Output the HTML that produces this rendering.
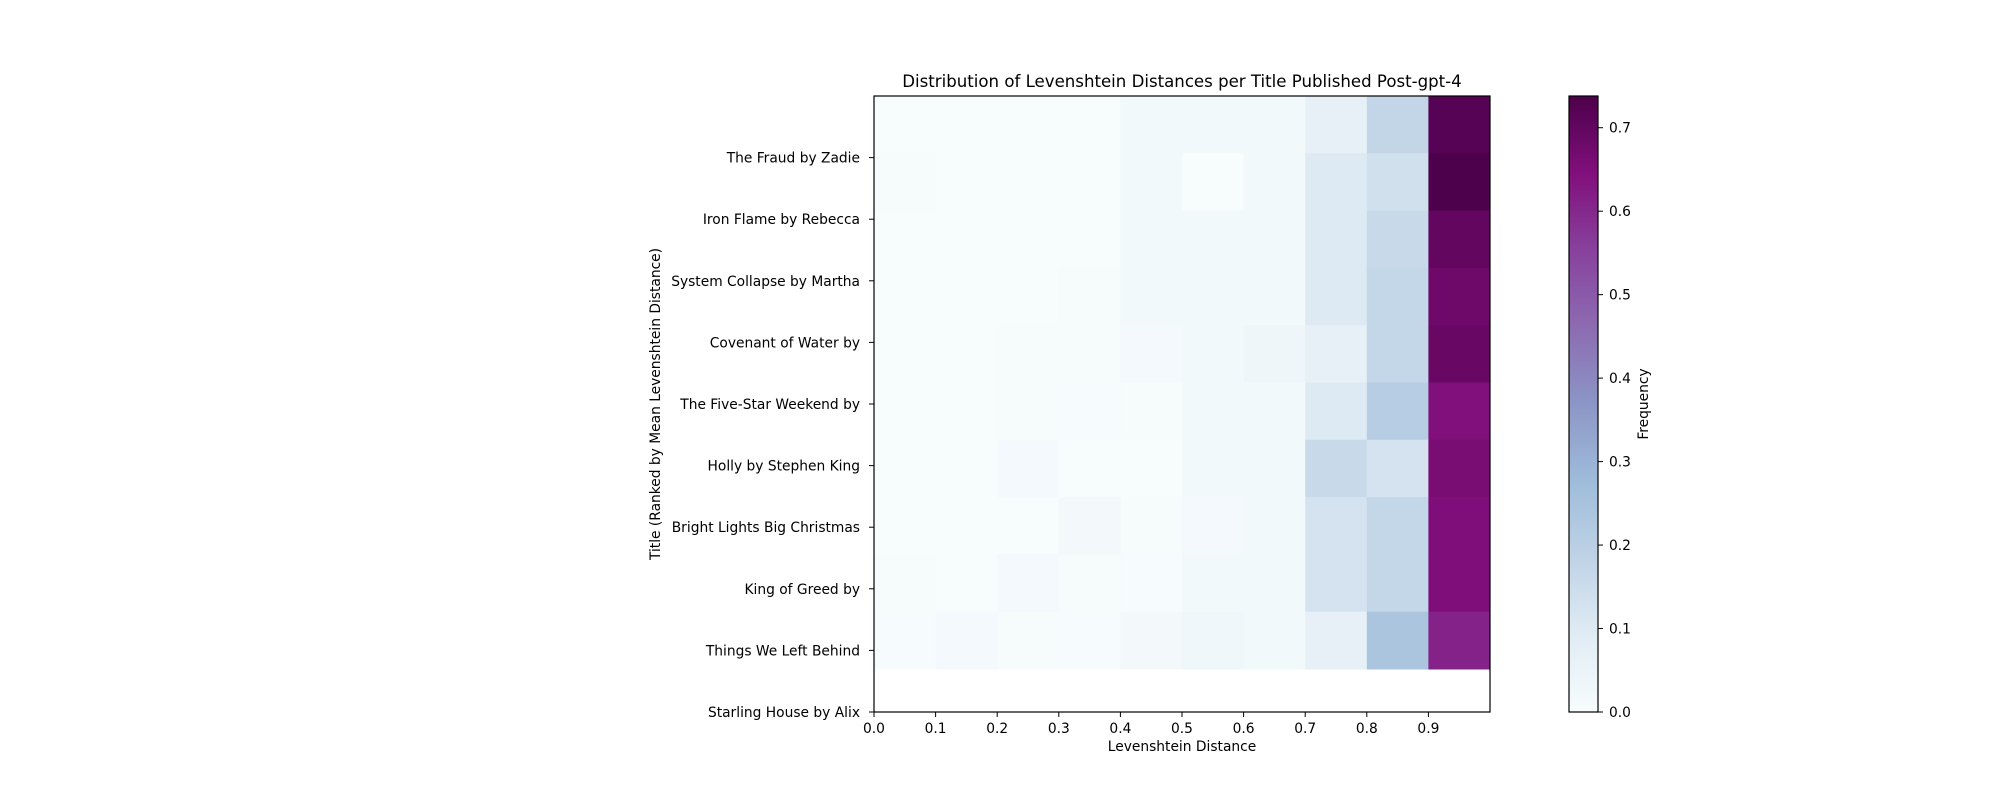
<!DOCTYPE html>
<html><head><meta charset="utf-8"><style>
html,body{margin:0;padding:0;background:#fff;}
svg{display:block;font-family:"DejaVu Sans","Liberation Sans",sans-serif;}
</style></head><body>
<svg id="chart" width="2000" height="800" viewBox="0 0 2000 800">
<text x="1182" y="87" font-size="16.6" text-anchor="middle">Distribution of Levenshtein Distances per Title Published Post-gpt-4</text>
<g id="cells"></g>
<rect x="874" y="96" width="616" height="616" fill="none" stroke="#000" stroke-width="1.2"/>
<g id="xticks"></g>
<g id="yticks"></g>
<text x="1182" y="751" font-size="13.8" text-anchor="middle">Levenshtein Distance</text>
<text transform="translate(660,404) rotate(-90)" font-size="13.8" text-anchor="middle">Title (Ranked by Mean Levenshtein Distance)</text>
<defs><linearGradient id="cbg" x1="0" y1="1" x2="0" y2="0"></linearGradient></defs>
<rect x="1569" y="96" width="29" height="616" fill="url(#cbg)" stroke="#000" stroke-width="1.2"/>
<g id="cbticks"></g>
<text transform="translate(1648,404) rotate(-90)" font-size="13.8" text-anchor="middle">Frequency</text>
</svg>
<script>
const titles = ["The Fraud by Zadie","Iron Flame by Rebecca","System Collapse by Martha","Covenant of Water by","The Five-Star Weekend by","Holly by Stephen King","Bright Lights Big Christmas","King of Greed by","Things We Left Behind","Starling House by Alix"];
const xTickLabels = ["0.0","0.1","0.2","0.3","0.4","0.5","0.6","0.7","0.8","0.9"];
const cbTickLabels = ["0.0","0.1","0.2","0.3","0.4","0.5","0.6","0.7"];
const row0 = [0,0,0,0,0.02,0.02,0.02,0.068,0.175,0.72];
const row1 = [0.006,0,0,0,0.02,0.002,0.02,0.10,0.138,0.738];
const row2 = [0,0,0,0,0.02,0.02,0.02,0.10,0.16,0.70];
const row3 = [0,0,0,0.006,0.02,0.02,0.02,0.10,0.17,0.68];
const row4 = [0,0,0.006,0.006,0.015,0.02,0.035,0.068,0.17,0.69];
const row5 = [0,0,0.006,0.003,0.006,0.02,0.02,0.10,0.21,0.646];
const row6 = [0,0,0.015,0,0,0.02,0.02,0.16,0.125,0.66];
const row7 = [0,0,0,0.018,0.006,0.015,0.02,0.125,0.17,0.65];
const row8 = [0.006,0.002,0.015,0.006,0.003,0.02,0.02,0.125,0.17,0.65];
const row9 = [0.004,0.015,0.006,0.004,0.018,0.03,0.02,0.068,0.24,0.61];
const rows = [row0,row1,row2,row3,row4,row5,row6,row7,row8,row9];
const vmax = 0.738;

const NS="http://www.w3.org/2000/svg";
const L=874,T=96,W=616,H=616;
const rowH = 57.3;
const xs = v => L + v*W;
const rowTop = i => T + i*rowH;
const tickY = i => T + (i+1)*H/titles.length;
const cbY = v => 712 - v/vmax*616;
const stops=[[247,252,253],[224,236,244],[191,211,230],[158,188,218],[140,150,198],[140,107,177],[136,65,157],[129,15,124],[77,0,75]];
function cmap(v){let t=Math.max(0,Math.min(1,v/vmax))*(stops.length-1);let i=Math.min(Math.floor(t),stops.length-2);let f=t-i;
 const c=stops[i].map((a,k)=>Math.round(a+(stops[i+1][k]-a)*f));return `rgb(${c.join(',')})`;}
function mk(tag,attrs,parent){const e=document.createElementNS(NS,tag);for(const k in attrs)e.setAttribute(k,attrs[k]);parent.appendChild(e);return e;}

const cells=document.getElementById('cells');
rows.forEach((r,i)=>r.forEach((v,j)=>{
 const e=mk('rect',{x:xs(j/r.length),y:rowTop(i),width:W/r.length+0.5,height:rowH+0.5,fill:cmap(v)},cells);
 
 
}));
const xg=document.getElementById('xticks');
xTickLabels.forEach(s=>{const v=parseFloat(s);const x=xs(v);
 mk('line',{x1:x,x2:x,y1:712,y2:717,stroke:'#000'},xg);
 const t=mk('text',{x:x,y:733,'font-size':13.8,'text-anchor':'middle'},xg);t.textContent=s;
 
 
});
const yg=document.getElementById('yticks');
titles.forEach((s,i)=>{const y=tickY(i);
 mk('line',{x1:869,x2:874,y1:y,y2:y,stroke:'#000'},yg);
 const t=mk('text',{x:860,y:y+5,'font-size':13.8,'text-anchor':'end'},yg);t.textContent=s;
 
 
});
const g=document.getElementById('cbg');
stops.forEach((c,i)=>mk('stop',{offset:i/(stops.length-1),'stop-color':`rgb(${c.join(',')})`},g));
const cg=document.getElementById('cbticks');
cbTickLabels.forEach(s=>{const y=cbY(parseFloat(s));
 mk('line',{x1:1598,x2:1603,y1:y,y2:y,stroke:'#000'},cg);
 const t=mk('text',{x:1609,y:y+5,'font-size':13.8},cg);t.textContent=s;
 
 
});
</script>
</body></html>
